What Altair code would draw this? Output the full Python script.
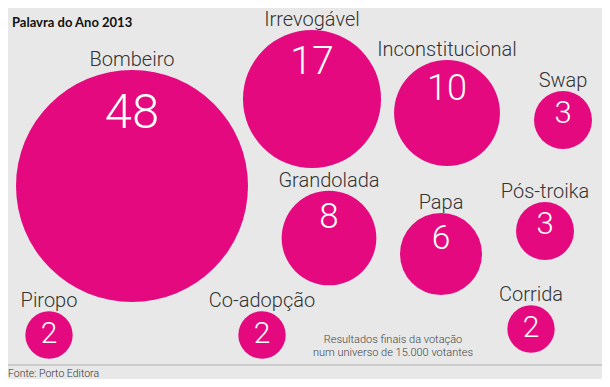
import altair as alt
import pandas as pd

# ---- data ----
words = ["Bombeiro", "Irrevogável", "Inconstitucional", "Swap", "Grandolada",
         "Papa", "Pós-troika", "Piropo", "Co-adopção", "Corrida"]
votes = [48, 17, 10, 3, 8, 6, 3, 2, 2, 2]
# layout positions of the bubble centres (reference pixel space)
cx = [132, 312, 447, 563, 329, 441, 545, 49, 262, 531]
cy = [186, 99, 113, 120, 238, 254, 231, 335, 335, 329]

title_text = "Palavra do Ano 2013"
note_lines = ["Resultados finais da votação", "num universo de 15.000 votantes"]
source_text = "Fonte: Porto Editora"

df = pd.DataFrame({"word": words, "votes": votes, "cx": cx, "cy": cy})

PINK = "#e5097f"
BG = "#e8e8e8"
FONT = "Roboto"
RMAX = 116  # radius of the largest bubble in px
W, H = 594, 371
OFF = 8  # page margin

xs = alt.Scale(domain=[OFF, OFF + W], nice=False, zero=False)
ys = alt.Scale(domain=[OFF, OFF + H], reverse=True, nice=False, zero=False)
X = alt.X("cx:Q", scale=xs, axis=None)

base = alt.Chart(df)

# Vega symbol size = (2r)^2
bubbles = base.mark_circle(color=PINK, opacity=1).encode(
    x=X,
    y=alt.Y("cy:Q", scale=ys, axis=None),
    size=alt.Size("votes:Q",
                  scale=alt.Scale(type="linear", domain=[0, 48],
                                  range=[0, 4 * RMAX ** 2]),
                  legend=None),
)

rexpr = f"{RMAX}*sqrt(datum.votes/48)"

labels = base.transform_calculate(
    ly=f"datum.cy - {rexpr} - 4"
).mark_text(font=FONT, fontWeight=300, fontSize=20, color="#333333",
            align="center", baseline="alphabetic").encode(
    x=X,
    y=alt.Y("ly:Q", scale=ys, axis=None),
    text="word:N",
)

numbers = base.transform_calculate(
    ny=f"datum.cy - {rexpr} + 17 + 0.22*{rexpr}"
).mark_text(font=FONT, fontWeight=300, color="white",
            align="center", baseline="middle").encode(
    x=X,
    y=alt.Y("ny:Q", scale=ys, axis=None),
    text="votes:Q",
    size=alt.Size("votes:Q",
                  scale=alt.Scale(type="sqrt", domain=[2, 48], range=[30, 49], zero=False),
                  legend=None),
)

one = pd.DataFrame({"k": [0]})
ann = alt.Chart(one)

title = ann.mark_text(font="Lato", fontWeight="bold", fontSize=13, color="#111111",
                      align="left", baseline="alphabetic").encode(
    x=alt.value(12 - OFF), y=alt.value(27 - OFF), text=alt.value(title_text))

note = ann.mark_text(font=FONT, fontWeight=300, fontSize=11, color="#444444",
                     align="center", baseline="alphabetic", lineHeight=13).encode(
    x=alt.value(393 - OFF), y=alt.value(343 - OFF), text=alt.value(note_lines))

rule = ann.mark_rule(color="#cdcdcd", strokeWidth=2).encode(
    x=alt.value(-10), x2=alt.value(W + 10), y=alt.value(365 - OFF))

source = ann.mark_text(font=FONT, fontWeight=300, fontSize=10.5, color="#333333",
                       align="left", baseline="alphabetic").encode(
    x=alt.value(0), y=alt.value(376.5 - OFF), text=alt.value(source_text))

chart = alt.layer(bubbles, labels, numbers, title, note, rule, source).resolve_scale(
    size="independent"
).properties(
    width=W, height=H,
    autosize=alt.AutoSizeParams(type="none"),
    padding=0,
    background=BG,
).configure_view(stroke=None)

chart.save("out.html", embed_options={"renderer": "svg", "actions": False})
